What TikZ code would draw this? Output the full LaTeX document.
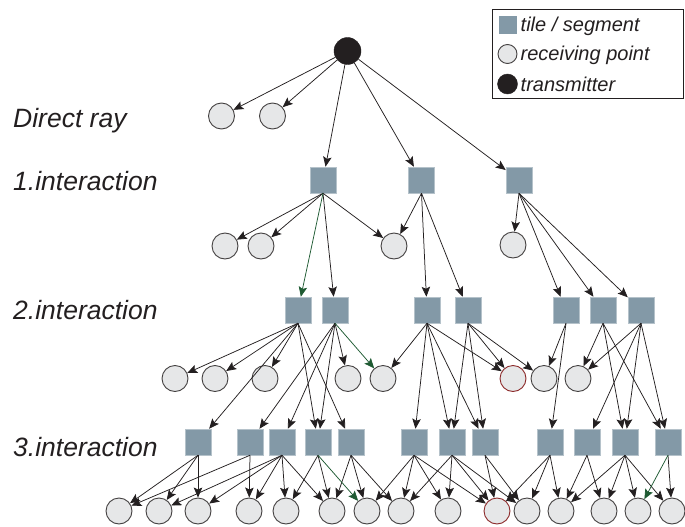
\documentclass[tikz,border=0pt]{standalone}
\usepackage{fontspec}
\setmainfont{Liberation Sans}
\usetikzlibrary{arrows.meta}
\definecolor{tilec}{HTML}{8399A7}
\definecolor{recc}{HTML}{E6E7E8}
\definecolor{linec}{HTML}{231F20}
\definecolor{greenc}{HTML}{1E5A32}
\definecolor{redc}{HTML}{8C2A2A}
\tikzset{
 tile/.style={rectangle, fill=tilec, draw=tilec!60!white, line width=0.5pt, minimum size=26pt, inner sep=0pt},
 rec/.style={circle, fill=recc, draw=linec!85, line width=0.9pt, minimum size=26pt, inner sep=0pt},
 redrec/.style={rec, draw=redc},
 txs/.style={circle, fill=linec, draw=linec, minimum size=27pt, inner sep=0pt},
 arr/.style={draw=linec, line width=0.75pt, -{Stealth[length=10pt,width=8.5pt,inset=2pt]}},
 garr/.style={arr, draw=greenc},
 lbl/.style={font=\fontsize{26.5}{30}\selectfont\itshape, anchor=west, inner sep=0pt, text=linec},
 legtxt/.style={font=\fontsize{20}{22}\selectfont\itshape, anchor=west, inner sep=0pt, text=linec},
}
\begin{document}
\begin{tikzpicture}[x=1pt,y=-1pt]
\useasboundingbox (0,0) rectangle (685,527);
% labels
\node[lbl] (l0) at (13,121) {Direct ray};
\node[lbl] (l1) at (13,181) {1.interaction};
\node[lbl] (l2) at (13,310) {2.interaction};
\node[lbl] (l3) at (13,447) {3.interaction};
% legend
\node[draw=linec, line width=0.8pt, minimum width=191pt, minimum height=89pt, inner sep=0pt] (leg) at (587.5,53.5) {};
\node[rectangle, fill=tilec, minimum size=18pt, inner sep=0pt] (lgt) at (507.5,25) {};
\node[rec, minimum size=19pt] (lgr) at (507.5,54) {};
\node[txs, minimum size=20pt] (lgx) at (507.5,84) {};
\node[legtxt] (lgtt) at (520.5,26) {tile / segment};
\node[legtxt] (lgrt) at (520.5,55) {receiving point};
\node[legtxt] (lgxt) at (520.5,84.5) {transmitter};
% transmitter
\node[txs] (tx) at (347.5,51) {};
% direct ray
\node[rec] (d1) at (221.5,116) {};
\node[rec] (d2) at (272.5,116) {};
% level 1
\node[tile] (a1) at (323,180) {};
\node[tile] (a2) at (421.5,180) {};
\node[tile] (a3) at (519,180) {};
\node[rec] (e1) at (225,246) {};
\node[rec] (e2) at (261,246) {};
\node[rec] (e3) at (394,246) {};
\node[rec] (e4) at (513,245) {};
% level 2
\foreach \n/\x in {b1/298,b2/335,b3/427,b4/468,b5/566,b6/603,b7/641}
  \node[tile] (\n) at (\x,310) {};
\foreach \n/\x in {f1/175,f2/215,f3/265,f4/348,f5/383,f7/544,f8/578}
  \node[rec] (\n) at (\x,378.5) {};
\node[redrec] (f6) at (513,378.5) {};
% level 3
\foreach \n/\x in {t1/198,t2/250,t3/282,t4/318,t5/351,t6/414,t7/452,t8/485,t9/550,t10/587,t11/625,t12/668}
  \node[tile] (\n) at (\x,442) {};
\foreach \n/\x in {g1/119,g2/159,g3/198,g4/249,g5/286,g6/332,g7/367,g8/401,g9/448,g11/527,g12/561,g13/604,g14/638,g15/672}
  \node[rec] (\n) at (\x,511) {};
\node[redrec] (g10) at (497,511) {};
% edges from transmitter
\foreach \t in {d1,d2,a1,a2,a3}
  \draw[arr] (tx) -- (\t);
% edges from tiles
\foreach \s/\t in {a1/e1,a1/e2,a1/e3,a1/b2,
  a2/e3,a2/b3,a2/b4,
  a3/e4,a3/b5,a3/b6,a3/b7,
  b1/f1,b1/f2,b1/f3,b1/t1,b1/t4,b1/t5,
  b2/f4,b2/t2,b2/t3,b2/t4,
  b3/f5,b3/f6,b3/t6,b3/t7,b3/t8,
  b4/f6,b4/f7,b4/t7,b4/t8,
  b5/f7,b5/t9,
  b6/f8,b6/t11,b6/t12,
  b7/f8,b7/t10,b7/t11,b7/t12,
  t1/g1,t1/g2,t1/g3,
  t2/g1,t2/g4,
  t3/g2,t3/g3,t3/g4,t3/g5,t3/g6,
  t4/g5,t4/g6,
  t5/g6,t5/g7,t5/g8,
  t6/g7,t6/g8,t6/g9,t6/g10,
  t7/g8,t7/g9,t7/g10,t7/g11,
  t8/g10,t8/g11,
  t9/g10,t9/g11,t9/g12,
  t10/g12,t10/g13,
  t11/g12,t11/g13,t11/g14,t11/g15,
  t12/g15}
  \draw[arr] (\s.south) -- (\t);
\foreach \s/\t in {a1/b1,b2/f5,t4/g7,t12/g14}
  \draw[garr] (\s.south) -- (\t);
\end{tikzpicture}
\end{document}
